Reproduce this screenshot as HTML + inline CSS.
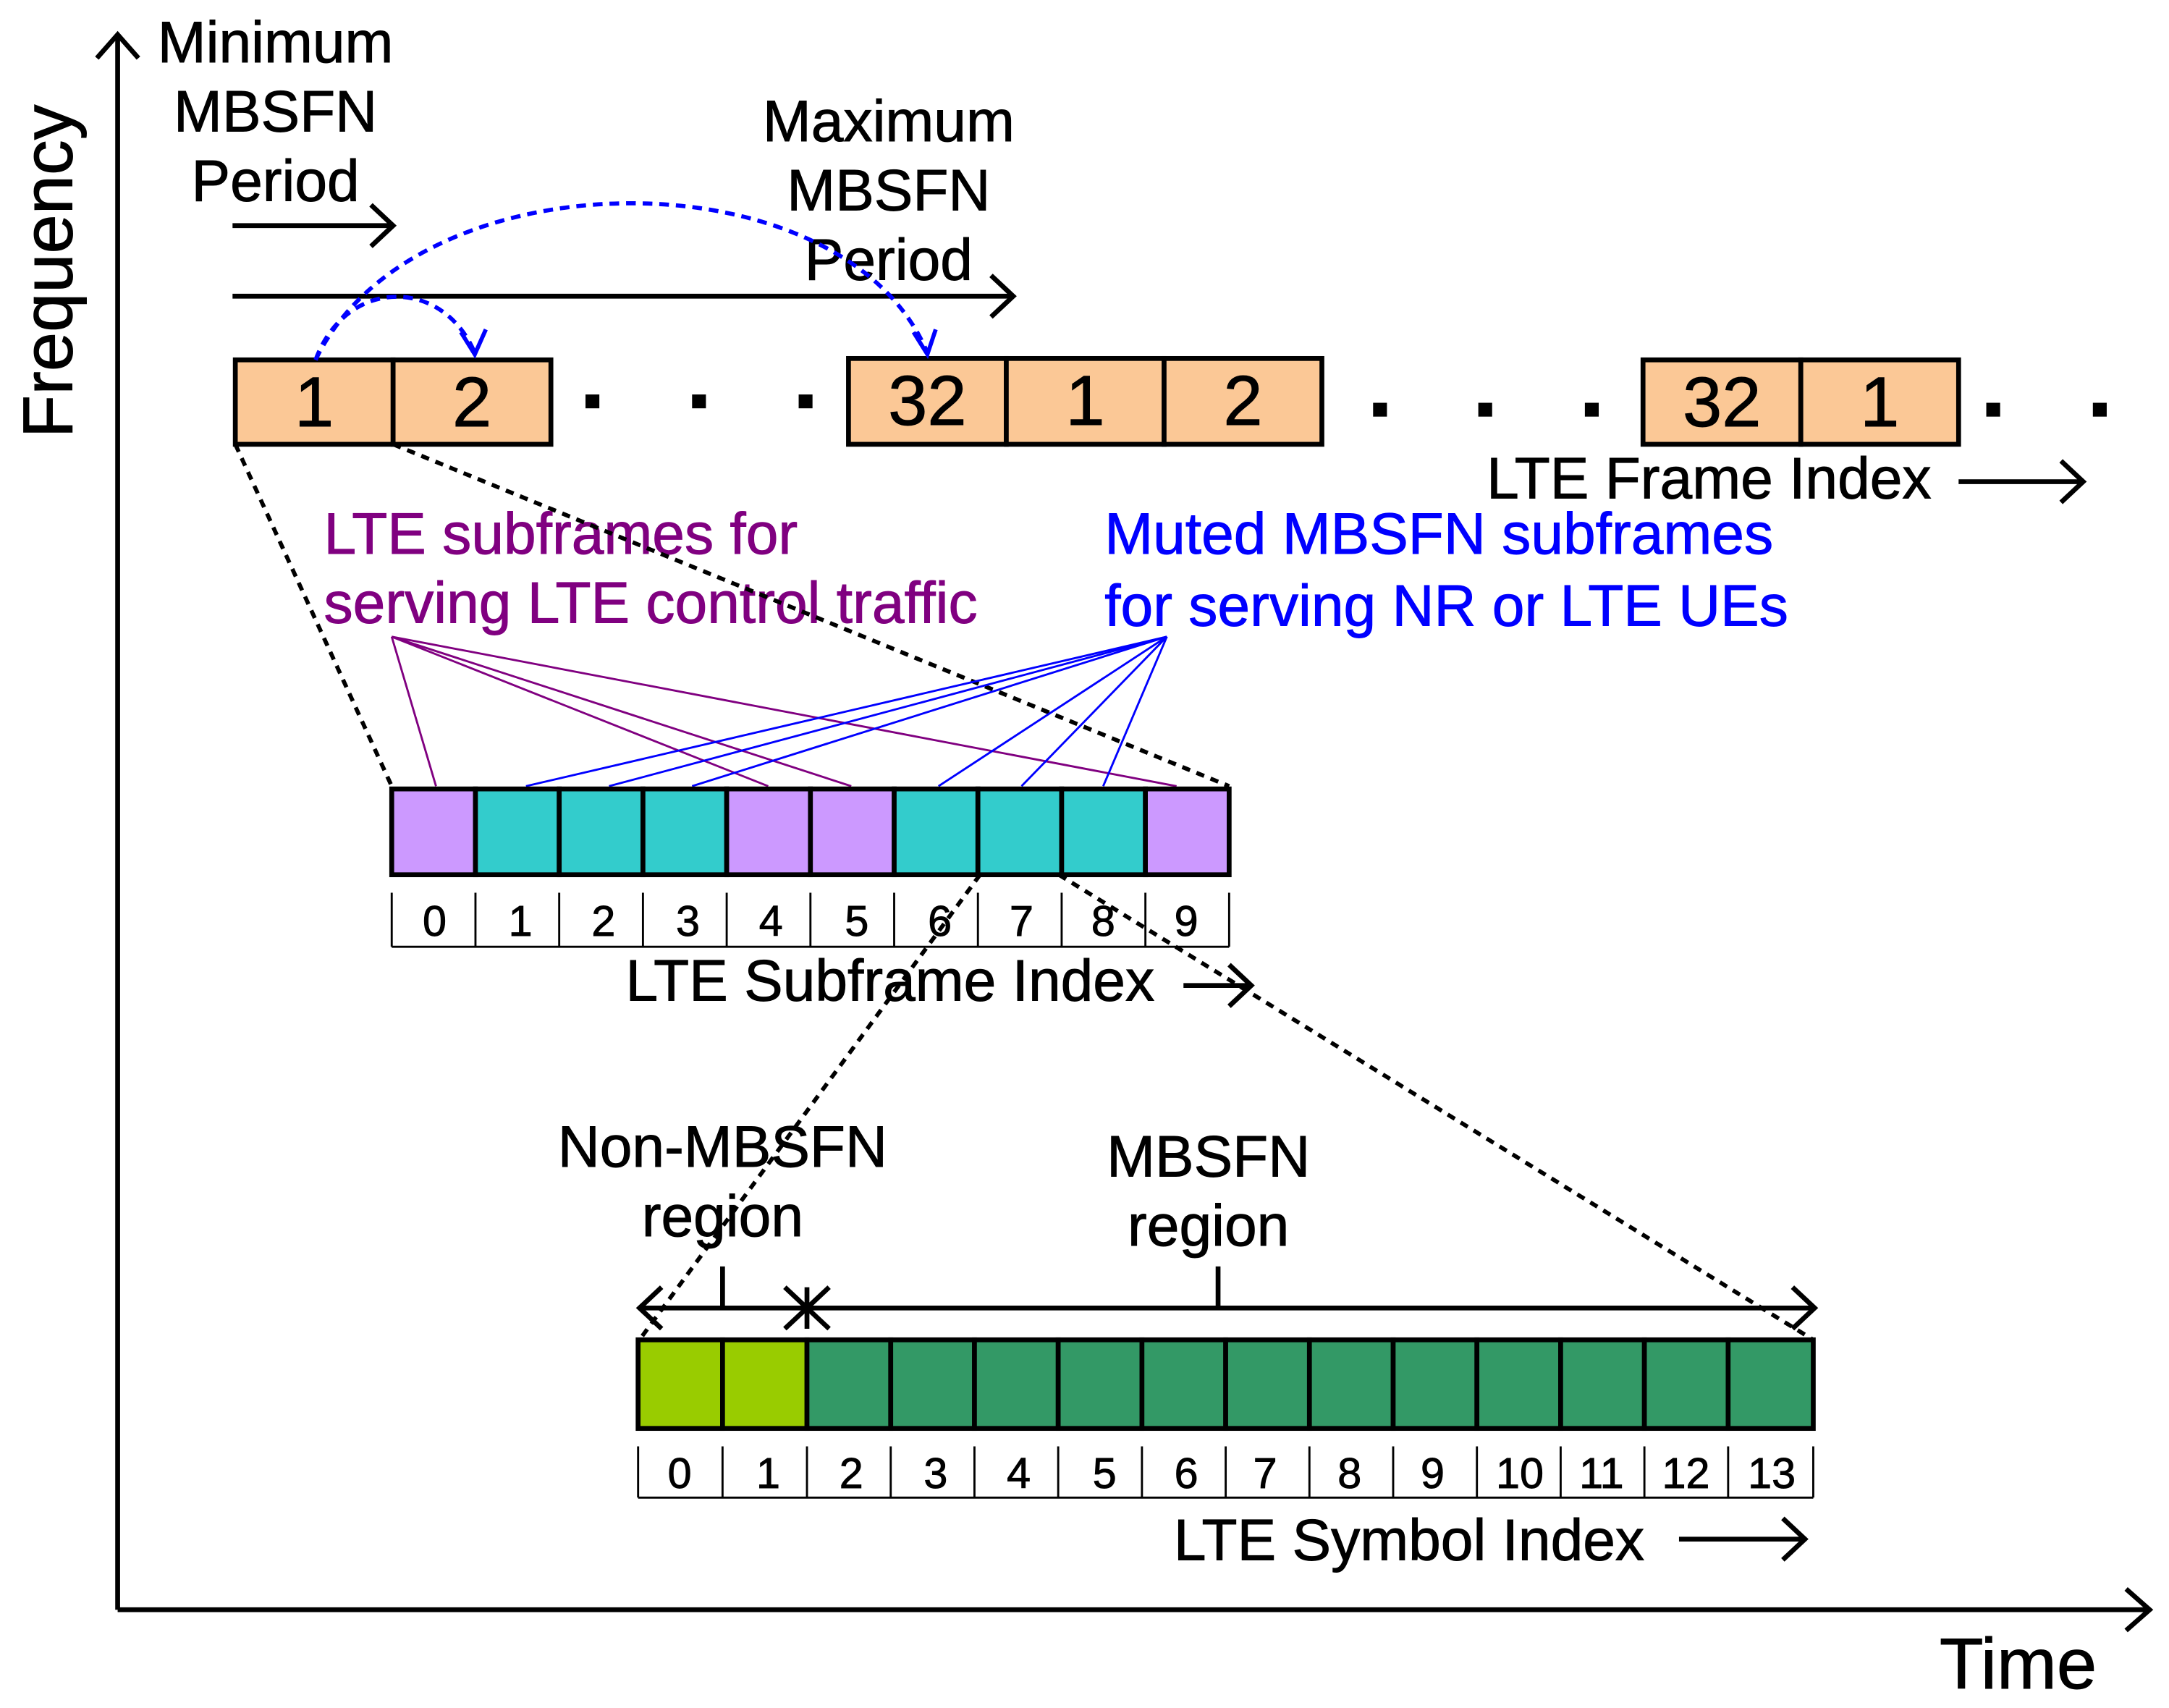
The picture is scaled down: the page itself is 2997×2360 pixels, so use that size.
<!DOCTYPE html>
<html><head><meta charset="utf-8"><style>html,body{margin:0;padding:0;background:#fff}svg{display:block}text{stroke:currentColor;stroke-width:0.5}</style></head>
<body>
<svg width="2997" height="2360" viewBox="0 0 1567 1234" preserveAspectRatio="none" xmlns="http://www.w3.org/2000/svg" font-family="Liberation Sans, Arial, sans-serif">
<g stroke="#000" stroke-width="3.5" fill="none">
<line x1="85" y1="1163" x2="85" y2="25"/><polyline points="70,42 85,25 100,42"/>
<line x1="85" y1="1163" x2="1553" y2="1163"/><polyline points="1536,1148 1553,1163 1536,1178"/>
<line x1="168" y1="163" x2="284" y2="163"/><polyline points="268,148 284,163 268,178"/>
<line x1="168" y1="214" x2="732" y2="214"/><polyline points="716,199 732,214 716,229"/>
<line x1="1415" y1="348" x2="1505" y2="348"/><polyline points="1489,333 1505,348 1489,363"/>
<line x1="855" y1="712" x2="904" y2="712"/><polyline points="888,697 904,712 888,727"/>
<line x1="1213" y1="1112" x2="1304" y2="1112"/><polyline points="1288,1097 1304,1112 1288,1127"/>
<line x1="462" y1="945" x2="1311" y2="945"/>
<polyline points="478,930 462,945 478,960"/><polyline points="567,930 583,945 567,960"/>
<polyline points="599,930 583,945 599,960"/><polyline points="1295,930 1311,945 1295,960"/>
<line x1="583" y1="930" x2="583" y2="960"/>
<line x1="522" y1="915" x2="522" y2="945"/><line x1="880" y1="915" x2="880" y2="945"/>
</g>
<text x="52" y="196" font-size="51" text-anchor="middle" transform="rotate(-90 52 196)" color="#000">Frequency</text>
<text x="1458" y="1220" font-size="52" text-anchor="middle" color="#000">Time</text>
<g font-size="42" text-anchor="middle" color="#000">
<text x="199" y="45">Minimum</text><text x="199" y="95">MBSFN</text><text x="199" y="145">Period</text>
<text x="642" y="102">Maximum</text><text x="642" y="152">MBSFN</text><text x="642" y="202">Period</text>
<text x="522" y="843">Non-MBSFN</text><text x="522" y="893">region</text>
<text x="873" y="850">MBSFN</text><text x="873" y="900">region</text>
</g>
<g font-size="42" color="#000">
<text x="1074" y="360">LTE Frame Index</text>
<text x="452" y="723">LTE Subframe Index</text>
<text x="848" y="1127">LTE Symbol Index</text>
<text x="234" y="400" fill="#800080" color="#800080">LTE subframes for</text>
<text x="234" y="450" fill="#800080" color="#800080">serving LTE control traffic</text>
<text x="798" y="400" fill="#0000FF" color="#0000FF">Muted MBSFN subframes</text>
<text x="798" y="452" fill="#0000FF" color="#0000FF">for serving NR or LTE UEs</text>
</g>
<g fill="#FBC896" stroke="#000" stroke-width="3.5">
<rect x="170" y="260" width="114" height="61"/><rect x="284" y="260" width="114" height="61"/>
<rect x="613" y="259" width="114" height="62"/><rect x="727" y="259" width="114" height="62"/><rect x="841" y="259" width="114" height="62"/>
<rect x="1187" y="260" width="114" height="61"/><rect x="1301" y="260" width="114" height="61"/>
</g>
<g font-size="51" text-anchor="middle" color="#000">
<text x="227" y="308">1</text><text x="341" y="308">2</text>
<text x="670" y="307">32</text><text x="784" y="307">1</text><text x="898" y="307">2</text>
<text x="1244" y="308">32</text><text x="1358" y="308">1</text>
</g>
<g fill="#000">
<rect x="423" y="285" width="10" height="10"/><rect x="500" y="285" width="10" height="10"/><rect x="577" y="285" width="10" height="10"/>
<rect x="992" y="291" width="10" height="10"/><rect x="1068" y="291" width="10" height="10"/><rect x="1145" y="291" width="10" height="10"/>
<rect x="1435" y="291" width="10" height="10"/><rect x="1512" y="291" width="10" height="10"/>
</g>
<g stroke="#0000FF" stroke-width="3" fill="none" stroke-dasharray="7,5">
<path d="M228,260 C250,200 320,200 343,255"/>
<path d="M228,260 C300,110 610,110 670,255"/>
</g>
<g stroke="#0000FF" stroke-width="3" fill="none">
<polyline points="333,240 343,256 351,238"/><polyline points="660,240 670,256 676,238"/>
</g>
<g stroke="#000" stroke-width="3" stroke-dasharray="6,5" fill="none">
<line x1="170" y1="321" x2="283" y2="568"/><line x1="284" y1="321" x2="888" y2="568"/>
<line x1="708" y1="632" x2="462" y2="968"/><line x1="765" y1="632" x2="1310" y2="968"/>
</g>
<g stroke="#800080" stroke-width="1.5">
<line x1="283" y1="460" x2="315" y2="568"/><line x1="283" y1="460" x2="555" y2="568"/>
<line x1="283" y1="460" x2="615" y2="568"/><line x1="283" y1="460" x2="850" y2="568"/>
</g>
<g stroke="#0000FF" stroke-width="1.5">
<line x1="843" y1="460" x2="380" y2="568"/><line x1="843" y1="460" x2="440" y2="568"/>
<line x1="843" y1="460" x2="500" y2="568"/><line x1="843" y1="460" x2="678" y2="568"/>
<line x1="843" y1="460" x2="738" y2="568"/><line x1="843" y1="460" x2="797" y2="568"/>
</g>
<g stroke="#000" stroke-width="3.5">
<rect x="283" y="570" width="60.5" height="62" fill="#CC99FF"/>
<rect x="343.5" y="570" width="60.5" height="62" fill="#33CCCC"/>
<rect x="404" y="570" width="60.5" height="62" fill="#33CCCC"/>
<rect x="464.5" y="570" width="60.5" height="62" fill="#33CCCC"/>
<rect x="525" y="570" width="60.5" height="62" fill="#CC99FF"/>
<rect x="585.5" y="570" width="60.5" height="62" fill="#CC99FF"/>
<rect x="646" y="570" width="60.5" height="62" fill="#33CCCC"/>
<rect x="706.5" y="570" width="60.5" height="62" fill="#33CCCC"/>
<rect x="767" y="570" width="60.5" height="62" fill="#33CCCC"/>
<rect x="827.5" y="570" width="60.5" height="62" fill="#CC99FF"/>
</g>
<g stroke="#000" stroke-width="1.5">
<line x1="283" y1="684" x2="888" y2="684"/>
<line x1="283" y1="645" x2="283" y2="684"/><line x1="343.5" y1="645" x2="343.5" y2="684"/><line x1="404" y1="645" x2="404" y2="684"/><line x1="464.5" y1="645" x2="464.5" y2="684"/><line x1="525" y1="645" x2="525" y2="684"/><line x1="585.5" y1="645" x2="585.5" y2="684"/><line x1="646" y1="645" x2="646" y2="684"/><line x1="706.5" y1="645" x2="706.5" y2="684"/><line x1="767" y1="645" x2="767" y2="684"/><line x1="827.5" y1="645" x2="827.5" y2="684"/><line x1="888" y1="645" x2="888" y2="684"/>
</g>
<g font-size="31" text-anchor="middle" color="#000">
<text x="314" y="676">0</text><text x="376" y="676">1</text><text x="436" y="676">2</text><text x="497" y="676">3</text><text x="557" y="676">4</text><text x="619" y="676">5</text><text x="679" y="676">6</text><text x="738" y="676">7</text><text x="797" y="676">8</text><text x="857" y="676">9</text>
</g>
<g stroke="#000" stroke-width="3.5" fill="#339966">
<rect x="461" y="968" width="61" height="64" fill="#99CC00"/>
<rect x="522" y="968" width="61" height="64" fill="#99CC00"/>
<rect x="583" y="968" width="60.5" height="64"/><rect x="643.5" y="968" width="60.5" height="64"/><rect x="704" y="968" width="60.5" height="64"/><rect x="764.5" y="968" width="60.5" height="64"/><rect x="825" y="968" width="60.5" height="64"/><rect x="885.5" y="968" width="60.5" height="64"/><rect x="946" y="968" width="60.5" height="64"/><rect x="1006.5" y="968" width="60.5" height="64"/><rect x="1067" y="968" width="60.5" height="64"/><rect x="1127.5" y="968" width="60.5" height="64"/><rect x="1188" y="968" width="60.5" height="64"/><rect x="1248.5" y="968" width="61.5" height="64"/>
</g>
<g stroke="#000" stroke-width="1.5">
<line x1="461" y1="1082" x2="1310" y2="1082"/>
<line x1="461" y1="1045" x2="461" y2="1082"/><line x1="522" y1="1045" x2="522" y2="1082"/><line x1="583" y1="1045" x2="583" y2="1082"/><line x1="643.5" y1="1045" x2="643.5" y2="1082"/><line x1="704" y1="1045" x2="704" y2="1082"/><line x1="764.5" y1="1045" x2="764.5" y2="1082"/><line x1="825" y1="1045" x2="825" y2="1082"/><line x1="885.5" y1="1045" x2="885.5" y2="1082"/><line x1="946" y1="1045" x2="946" y2="1082"/><line x1="1006.5" y1="1045" x2="1006.5" y2="1082"/><line x1="1067" y1="1045" x2="1067" y2="1082"/><line x1="1127.5" y1="1045" x2="1127.5" y2="1082"/><line x1="1188" y1="1045" x2="1188" y2="1082"/><line x1="1248.5" y1="1045" x2="1248.5" y2="1082"/><line x1="1310" y1="1045" x2="1310" y2="1082"/>
</g>
<g font-size="31" text-anchor="middle" color="#000">
<text x="491" y="1075">0</text><text x="555" y="1075">1</text><text x="615" y="1075">2</text><text x="676" y="1075">3</text><text x="736" y="1075">4</text><text x="798" y="1075">5</text><text x="857" y="1075">6</text><text x="914" y="1075">7</text><text x="975" y="1075">8</text><text x="1035" y="1075">9</text><text x="1098" y="1075">10</text><text x="1157" y="1075">11</text><text x="1218" y="1075">12</text><text x="1280" y="1075">13</text>
</g>
</svg>
</body></html>
